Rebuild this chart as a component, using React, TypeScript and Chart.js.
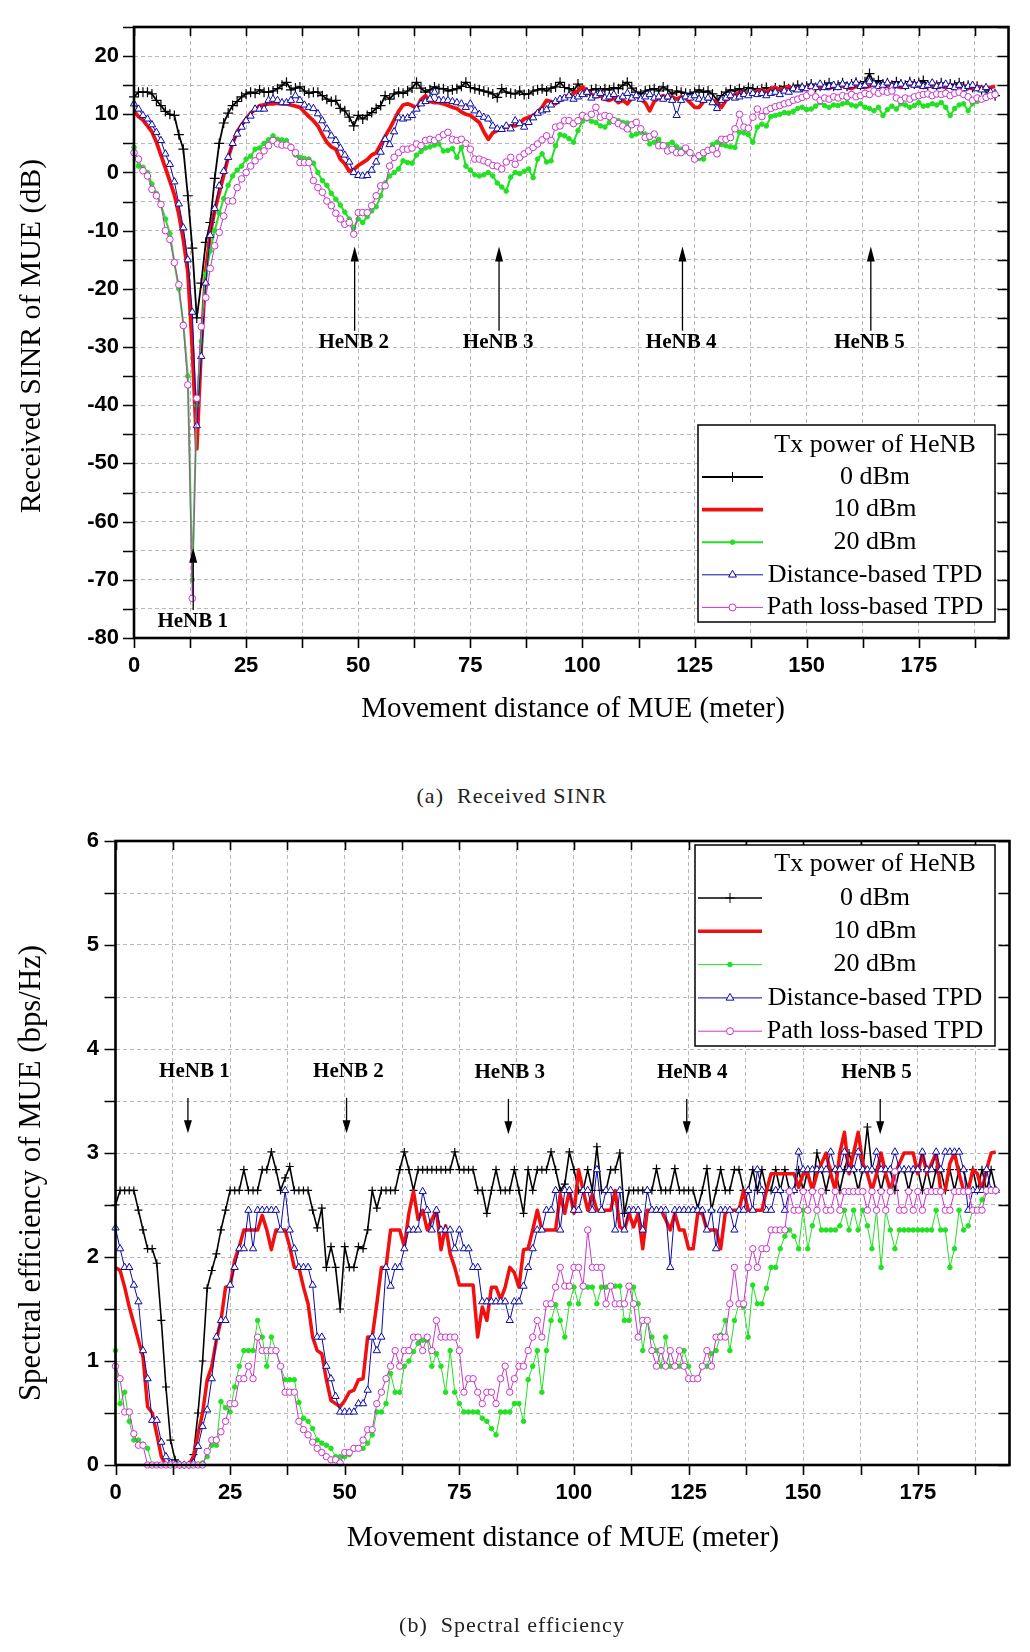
import React, { useEffect, useRef } from 'react';
import { Chart, registerables } from 'chart.js';

Chart.register(...registerables);

// ---------- DATA ----------
const DISTANCE_M = [
  0, 1, 2, 3, 4, 5, 6, 7, 8, 9, 10, 11, 12, 13, 14, 15, 16, 17, 18, 19,
  20, 21, 22, 23, 24, 25, 26, 27, 28, 29, 30, 31, 32, 33, 34, 35, 36, 37, 38, 39,
  40, 41, 42, 43, 44, 45, 46, 47, 48, 49, 50, 51, 52, 53, 54, 55, 56, 57, 58, 59,
  60, 61, 62, 63, 64, 65, 66, 67, 68, 69, 70, 71, 72, 73, 74, 75, 76, 77, 78, 79,
  80, 81, 82, 83, 84, 85, 86, 87, 88, 89, 90, 91, 92, 93, 94, 95, 96, 97, 98, 99,
  100, 101, 102, 103, 104, 105, 106, 107, 108, 109, 110, 111, 112, 113, 114, 115, 116, 117, 118, 119,
  120, 121, 122, 123, 124, 125, 126, 127, 128, 129, 130, 131, 132, 133, 134, 135, 136, 137, 138, 139,
  140, 141, 142, 143, 144, 145, 146, 147, 148, 149, 150, 151, 152, 153, 154, 155, 156, 157, 158, 159,
  160, 161, 162, 163, 164, 165, 166, 167, 168, 169, 170, 171, 172, 173, 174, 175, 176, 177, 178, 179,
  180, 181, 182, 183, 184, 185, 186, 187, 188, 189, 190, 191, 192,
];

const SERIES_LABELS = ['0 dBm', '10 dBm', '20 dBm', 'Distance-based TPD', 'Path loss-based TPD'];
const LEGEND_TITLE = 'Tx power of HeNB';

// (a) Received SINR (dB)
const SINR_0DBM = [
  13, 13.8, 13.8, 13.8, 13.5, 12.4, 11.5, 10.5, 10, 9.8,
  6.5, 4, -4, -13, -25, -19, -12, -8.6, -1, 5,
  8.5, 10.2, 11.5, 12.2, 13, 13.5, 13.8, 13.6, 14.2, 13.8,
  13.8, 14, 14.4, 15, 15.5, 14.2, 14.5, 14.7, 14, 13.6,
  13.8, 13.8, 13.2, 12.6, 12.2, 12.4, 11, 10.6, 9.5, 8,
  9.8, 9.2, 9.8, 10.3, 11, 11.5, 13.2, 12.6, 13.5, 13.8,
  13.6, 14, 14.5, 15.5, 14.5, 13.8, 14.2, 14.7, 14.4, 14.4,
  14, 14.2, 14.4, 14.8, 15.5, 14.6, 14.4, 14.2, 14, 13.8,
  13.5, 12.9, 14.4, 13.8, 13.6, 13.5, 14, 13.4, 13.5, 14,
  14.2, 14.4, 14, 14.5, 14.7, 15.5, 14.6, 14.4, 14, 15.2,
  14.4, 13.8, 14.2, 14.4, 14, 14.4, 14.2, 14.6, 14.4, 15,
  15.5, 14.5, 13.8, 13.5, 14, 14.2, 14.4, 14, 14.7, 14.2,
  13.5, 14, 13.8, 13.6, 13.5, 13.8, 14.2, 13.8, 14, 13.5,
  12.4, 13.2, 13.8, 14.2, 14, 14.4, 14, 14.6, 14.4, 14,
  14.4, 14.6, 14, 14.5, 14.2, 14.8, 14.4, 14.6, 15, 14.6,
  14.8, 15.2, 14.6, 14.8, 15, 15.4, 14.8, 15, 15.4, 14.8,
  15.2, 15.5, 15, 15.6, 17, 15.4, 15.8, 15.2, 15.4, 15,
  15.6, 15.2, 15, 15.6, 15.2, 15.4, 15.8, 15, 15.2, 15,
  15.4, 14.8, 15.2, 15, 15.4, 14.8, 15, 14.6, 14.8, 14.2,
  14.4, 13.8, 13.2,
];
const SINR_10DBM = [
  10.6, 9.6, 9, 8, 7, 5.2, 3, 0.8, -1.5, -3.8,
  -7.2, -11.5, -17, -30, -47.5, -30, -17, -10.5, -6.5, -3.5,
  -0.5, 2.6, 5, 7, 8.2, 9.2, 10.2, 10.8, 11.5, 11.6,
  11.8, 11.8, 11.9, 11.8, 11.8, 11.6, 11.4, 11.2, 10.4, 9.6,
  8.9, 8, 6.5, 5.2, 4.4, 4, 2.3, 1.5, 0.2, 0.5,
  1.2, 1.7, 2.2, 3, 3.4, 4.8, 6.2, 7.5, 9, 10.5,
  11.6, 11.8, 11.5, 11, 12.5, 13.2, 12.2, 12, 12, 11.8,
  11.5, 11.2, 11, 10.4, 10, 9.8, 9.2, 8.6, 7, 5.7,
  6.8, 7.2, 7.5, 7.8, 8, 8, 8.4, 9.2, 9.5, 9.8,
  10.4, 11.2, 12.4, 12.2, 11.8, 12.4, 13, 13.2, 13.6, 14,
  14.7, 14, 13.4, 13, 13.2, 12.6, 12.4, 12.8, 12, 12.4,
  11.8, 12.8, 13.2, 12.6, 12, 10.6, 12.2, 12.8, 13.2, 12.8,
  13, 12.6, 13, 12.8, 12, 11.2, 11.2, 12.2, 12.8, 12.4,
  12, 11.2, 12.4, 13, 13.4, 13.6, 13.8, 13.2, 13.6, 14,
  14.2, 13.8, 14.4, 14.6, 14.2, 14.4, 14.8, 14.4, 14.6, 14.4,
  14.8, 14.6, 14.4, 14.8, 14.6, 14.4, 14.8, 14.6, 15, 14.6,
  14.4, 14.8, 15, 14.6, 14.8, 15.2, 14.8, 14.6, 15, 15.2,
  14.8, 14.6, 14.8, 15.2, 15.4, 14.8, 14.6, 14.8, 15, 15.2,
  14.8, 14.6, 14.8, 14.6, 14.4, 14.8, 14.6, 14.4, 14.8, 14.6,
  14.4, 14.6, 14.8,
];
const SINR_20DBM = [
  4.3, 1.1, 0.9, 0, -2, -3.6, -5.5, -8, -10.5, -15.5,
  -20, -26, -35, -70, -40, -29, -17.5, -13.5, -10, -7,
  -4.5, -2.2, -0.6, 0.4, 1.1, 2.3, 2.8, 4, 4.2, 5,
  5.6, 6.3, 5.7, 5.6, 5.5, 4.2, 3, 2.6, 2.4, 2.3,
  1.6, 0, -1.4, -2.2, -3.6, -4.6, -5.6, -6.8, -8, -9.5,
  -8, -8.6, -7.6, -6.6, -5.9, -4, -1.8, -0.6, 0, 0.6,
  2, 1.7, 1.6, 3, 3.6, 4.2, 4.4, 4.7, 4.9, 3.7,
  3.8, 4.1, 2.6, 4.3, 1.1, 0.4, -0.4, -0.6, -0.4, 0,
  -0.6, -1.8, -2.5, -3.2, -0.8, 0, -0.2, 0.2, 0.6, -0.9,
  2.3, 3.2, 1.8, 2, 4.6, 6.5, 6.3, 5.8, 5.2, 7.2,
  8.8, 9.2, 8.8, 8.6, 8, 7.8, 8.6, 8.8, 8.9, 8.6,
  8.5, 6.3, 6.6, 6.9, 6.6, 4.9, 5.2, 5.7, 4.6, 4.8,
  5.2, 4.4, 4, 3.6, 3.4, 2.6, 2.4, 2.3, 3.8, 4.8,
  5.2, 4.8, 4.6, 4.4, 4.3, 6.9, 6.8, 6.5, 5.2, 7.8,
  8.3, 8, 9.6, 9.8, 10, 10.3, 10.2, 10.5, 11, 11.2,
  10.8, 10.9, 11.4, 12, 11.5, 11.2, 11.6, 11.5, 11.8, 12,
  11.6, 11.4, 11.8, 11.2, 11, 10.6, 11.2, 9.8, 10.8, 11.4,
  10.9, 11.8, 11.6, 11.2, 11.5, 12, 11.4, 11.5, 11.8, 11.6,
  12, 11.2, 9.8, 11, 11.6, 11.8, 10.6, 11.8, 12.2, 12.6,
  13.2, 13.4, 13.6,
];
const SINR_DIST_TPD = [
  11.8, 10.9, 9.8, 9.2, 8.2, 6.9, 5.5, 3.2, 1.4, -1.6,
  -5.4, -9.5, -15, -24, -43.5, -31.6, -19, -10.8, -6.2, -2.3,
  0.2, 2.6, 5, 6.6, 7.8, 8.9, 9.7, 10.9, 10.9, 10.9,
  12.4, 12.6, 12.4, 12, 12, 12.4, 13.2, 12.4, 11.6, 11.2,
  11, 10.1, 8.9, 7.5, 6.3, 5.5, 4.2, 3, 1.8, 0,
  -0.5, -0.6, -0.5, 0.4, 1.8, 3.5, 5.7, 4.8, 7, 9.4,
  9.2, 9.4, 9.8, 10.9, 11.8, 12.2, 12.6, 13.8, 12.4, 12.4,
  12.4, 12.2, 12, 11.8, 11.2, 11.8, 10.6, 10, 9.5, 9.2,
  8, 7.5, 7.4, 8, 7.5, 8.9, 8.4, 7.8, 8.6, 9.4,
  10.2, 10.6, 10.8, 11.6, 12.2, 12.6, 12.8, 13.2, 12.6, 13,
  13.4, 13.8, 12.8, 13.2, 13.6, 12.8, 13, 13.4, 12.6, 13,
  13.6, 12.8, 13.2, 12.6, 13, 13.4, 12.8, 13, 12.6, 13,
  12.4, 9.8, 12.4, 13, 12.8, 13.2, 12.6, 12.4, 12.8, 12,
  11, 12.4, 12.8, 13.2, 12.8, 13, 13.4, 13.2, 13.6, 13.4,
  13.6, 13.2, 13.6, 13.8, 13.4, 14, 13.8, 14.4, 14.2, 14.6,
  14.4, 14.8, 14.6, 15.2, 14.6, 14.8, 15, 14.6, 15.2, 14.8,
  15, 15.4, 14.8, 15, 15.6, 15.2, 14.8, 15, 15.4, 14.8,
  15, 15.2, 14.8, 15.4, 15, 15.2, 14.8, 15, 15.4, 14.8,
  15, 15.2, 14.8, 14.6, 15, 14.4, 14.8, 15, 14.4, 14.2,
  14.6, 13.8, 13.6,
];
const SINR_PL_TPD = [
  3.4, 2.3, 0.3, -0.6, -2.9, -4, -5.5, -10, -11.5, -15.5,
  -19.3, -26.3, -36.5, -73.2, -38.8, -26.5, -21.5, -16.5, -12.6, -10.3,
  -7.5, -4.9, -4.9, -2.6, -1.1, 0, 1.1, 2, 2.8, 3.7,
  4.6, 5.5, 4.9, 4.7, 4.7, 4.3, 3.4, 1.7, 1.7, 1.7,
  -1.4, -2.6, -3.4, -4.9, -5.7, -7, -8, -8.9, -8.6, -10.6,
  -6.9, -6.9, -6.9, -5.7, -4, -2.3, -2.3, 1.1, 2.6, 3.4,
  4, 4, 4.2, 4.9, 4.6, 5.5, 5.7, 5.5, 6, 6.5,
  6.9, 5.7, 5.5, 5.7, 5, 4, 2.3, 2.3, 2, 1.7,
  1.2, 1.1, 0.6, 1.8, 2.6, 1.4, 2.6, 3.2, 3.7, 4.3,
  4.9, 5.6, 6.3, 5.5, 7.8, 8, 8.9, 8.9, 8.4, 8.9,
  9.8, 9.5, 10, 11.2, 9.5, 9.8, 9.6, 8.9, 8.4, 8,
  7.5, 8.2, 8.6, 7.5, 6, 6.2, 6.6, 4.6, 4.6, 3.7,
  4, 3.4, 3.4, 4.2, 3.4, 2.3, 2.9, 3.4, 3.8, 4,
  3.2, 5.7, 5.7, 6, 7.5, 10, 7.8, 7.6, 9.5, 10.9,
  9.6, 10.6, 11, 11.3, 11.5, 11.8, 12, 12.4, 12.6, 12.9,
  13.2, 13.8, 13, 12.4, 12.8, 12.6, 13, 12.8, 13.2, 13,
  13.4, 13, 13.2, 13.6, 13.4, 14, 13.6, 14, 13.8, 14,
  12.8, 12.4, 12.8, 12.6, 13, 13.2, 13.4, 13.5, 13.2, 13.5,
  13.4, 13.6, 13.2, 13.6, 13.8, 13.4, 13, 12.4, 12.8, 12.6,
  12.9, 13.2, 13.4,
];

// (b) Spectral efficiency (bps/Hz)
const SE_0DBM = [
  2.5, 2.64, 2.64, 2.64, 2.64, 2.45, 2.26, 2.08, 2.08, 1.94,
  1.39, 0.75, 0.24, 0.05, 0, 0, 0, 0.1, 0.5, 1.0,
  1.7, 1.87, 2.03, 2.26, 2.45, 2.64, 2.64, 2.64, 2.84, 2.64,
  2.64, 2.64, 2.84, 2.84, 3.01, 2.84, 2.64, 2.76, 2.87, 2.64,
  2.64, 2.64, 2.64, 2.45, 2.28, 2.47, 1.9, 2.1, 1.9, 1.5,
  2.1, 1.9, 1.9, 2.1, 2.08, 2.26, 2.64, 2.47, 2.64, 2.64,
  2.64, 2.64, 2.84, 3.01, 2.84, 2.64, 2.84, 2.84, 2.84, 2.84,
  2.84, 2.84, 2.84, 2.84, 3.01, 2.84, 2.84, 2.84, 2.84, 2.64,
  2.64, 2.42, 2.64, 2.84, 2.64, 2.64, 2.64, 2.84, 2.64, 2.42,
  2.84, 2.64, 2.84, 2.84, 2.84, 3.01, 2.84, 2.64, 2.7, 3.01,
  2.84, 2.64, 2.64, 2.84, 2.64, 3.06, 2.64, 2.64, 2.84, 2.84,
  3.0, 2.42, 2.64, 2.64, 2.64, 2.64, 2.64, 2.64, 2.85, 2.64,
  2.64, 2.64, 2.85, 2.64, 2.64, 2.64, 2.64, 2.47, 2.64, 2.85,
  2.45, 2.64, 2.84, 2.64, 2.64, 2.84, 2.84, 2.64, 2.64, 2.84,
  2.64, 2.84, 2.64, 2.64, 2.84, 2.64, 2.84, 2.64, 2.64, 2.84,
  2.64, 2.84, 2.64, 3.0, 2.84, 2.64, 2.84, 2.84, 2.64, 2.84,
  3.0, 2.84, 2.64, 2.84, 3.25, 2.84, 2.84, 2.64, 2.84, 2.84,
  2.64, 2.84, 2.84, 2.64, 2.84, 2.84, 2.64, 2.84, 2.64, 2.84,
  2.84, 2.64, 2.84, 2.64, 2.84, 2.84, 2.64, 2.84, 2.64, 2.84,
  2.64, 2.84, 2.64,
];
const SE_10DBM = [
  1.9, 1.87, 1.71, 1.52, 1.36, 1.2, 1.04, 0.56, 0.5, 0.3,
  0.08, 0, 0, 0, 0, 0, 0, 0.08, 0.3, 0.5,
  0.82, 0.95, 1.2, 1.39, 1.71, 1.72, 1.97, 2.1, 2.26, 2.26,
  2.26, 2.26, 2.4, 2.26, 2.07, 2.26, 2.26, 2.26, 2.1, 1.9,
  1.9, 1.71, 1.55, 1.23, 1.1, 1.07, 0.82, 0.62, 0.59, 0.56,
  0.62, 0.7, 0.72, 0.82, 0.83, 1.23, 1.23, 1.55, 1.9, 1.9,
  2.26, 2.26, 2.26, 2.1, 2.42, 2.63, 2.36, 2.45, 2.26, 2.36,
  2.45, 2.07, 2.3, 2.03, 1.9, 1.73, 1.73, 1.73, 1.73, 1.23,
  1.52, 1.39, 1.71, 1.71, 1.59, 1.71, 1.9, 1.85, 1.71, 2.07,
  2.08, 2.26, 2.45, 2.26, 2.26, 2.26, 2.26, 2.6, 2.42, 2.64,
  2.42, 2.84, 2.64, 2.45, 2.6, 2.45, 2.45, 2.45, 2.45, 2.64,
  2.29, 2.26, 2.42, 2.29, 2.42, 2.08, 2.45, 2.45, 2.45, 2.45,
  2.36, 2.26, 2.42, 2.26, 2.26, 2.08, 2.08, 2.42, 2.42, 2.26,
  2.26, 2.26, 2.08, 2.42, 2.45, 2.45, 2.45, 2.64, 2.45, 2.45,
  2.45, 2.45, 2.64, 2.8, 2.8, 2.8, 2.8, 2.8, 2.8, 2.67,
  2.8, 2.8, 2.64, 2.8, 2.9, 3.0, 2.8, 2.64, 3.0, 3.2,
  2.8, 3.0, 3.2, 2.9, 2.8, 2.64, 2.8, 3.0, 2.8, 2.64,
  2.8, 2.9, 3.0, 3.0, 3.0, 2.8, 3.0, 2.8, 2.9, 3.0,
  2.64, 2.64, 2.9, 3.0, 2.8, 2.64, 2.64, 2.84, 2.8, 2.64,
  2.84, 3.0, 3.01,
];
const SE_20DBM = [
  1.1, 0.59, 0.7, 0.42, 0.24, 0.24, 0.2, 0.16, 0, 0,
  0, 0, 0, 0, 0, 0, 0, 0, 0, 0.02,
  0.08, 0.19, 0.19, 0.61, 0.55, 0.51, 0.75, 0.95, 1.1, 1.1,
  1.1, 1.39, 1.23, 0.95, 1.23, 1.1, 0.95, 0.82, 0.82, 0.82,
  0.6, 0.45, 0.42, 0.35, 0.24, 0.21, 0.19, 0.16, 0.08, 0.08,
  0.08, 0.1, 0.16, 0.16, 0.16, 0.21, 0.29, 0.51, 0.51, 0.59,
  0.88, 0.7, 0.7, 0.95, 1.0, 1.09, 1.17, 1.2, 1.2, 0.95,
  1.07, 0.95, 0.7, 1.1, 0.7, 0.59, 0.51, 0.51, 0.51, 0.51,
  0.45, 0.42, 0.35, 0.29, 0.51, 0.51, 0.51, 0.59, 0.59, 0.42,
  0.82, 0.95, 1.1, 0.7, 1.1, 1.39, 1.54, 1.39, 1.23, 1.55,
  1.71, 1.55, 1.71, 1.71, 1.71, 1.55, 1.71, 1.71, 1.72, 1.72,
  1.72, 1.39, 1.39, 1.71, 1.55, 1.1, 1.39, 1.23, 1.1, 0.95,
  1.23, 0.95, 0.95, 0.95, 1.1, 0.95, 0.83, 0.83, 0.95, 0.95,
  1.07, 1.1, 1.25, 1.39, 1.1, 1.39, 1.55, 1.52, 1.23, 1.73,
  1.55, 1.55, 1.7, 1.9, 1.9, 2.08, 2.2, 2.26, 2.2, 2.08,
  2.45, 2.08, 2.3, 2.45, 2.26, 2.26, 2.26, 2.26, 2.3, 2.45,
  2.26, 2.45, 2.26, 2.45, 2.3, 2.08, 2.45, 1.9, 2.45, 2.26,
  2.08, 2.26, 2.26, 2.26, 2.26, 2.26, 2.26, 2.26, 2.26, 2.45,
  2.26, 2.26, 1.9, 2.08, 2.45, 2.26, 2.3, 2.45, 2.45, 2.55,
  2.64, 2.64, 2.64,
];
const SE_DIST_TPD = [
  2.28, 2.08, 1.9, 1.9, 1.73, 1.57, 1.1, 0.83, 0.43, 0.43,
  0.22, 0.08, 0.02, 0, 0, 0, 0, 0.02, 0.18, 0.37,
  0.53, 0.83, 1.23, 1.39, 1.39, 1.73, 1.9, 2.08, 2.08, 2.45,
  2.08, 2.45, 2.45, 2.45, 2.45, 2.45, 2.26, 2.64, 2.26, 2.08,
  1.9, 1.9, 1.9, 1.73, 1.23, 1.23, 0.95, 0.83, 0.66, 0.51,
  0.51, 0.51, 0.51, 0.59, 0.59, 0.72, 1.23, 1.1, 1.23, 1.9,
  1.72, 1.9, 1.9, 2.08, 2.26, 2.26, 2.26, 2.63, 2.45, 2.26,
  2.45, 2.26, 2.26, 2.26, 2.08, 2.26, 2.08, 2.08, 1.9, 1.9,
  1.57, 1.57, 1.57, 1.57, 1.57, 1.57, 1.39, 1.57, 1.57, 1.72,
  1.9, 2.08, 2.26, 2.26, 2.45, 2.45, 2.64, 2.26, 2.64, 2.64,
  2.45, 2.45, 2.64, 2.64, 2.45, 2.84, 2.45, 2.64, 2.64, 2.26,
  2.64, 2.26, 2.45, 2.45, 2.45, 2.26, 2.64, 2.45, 2.45, 2.45,
  2.45, 1.9, 2.45, 2.45, 2.45, 2.45, 2.45, 2.45, 2.45, 2.26,
  2.45, 2.08, 2.45, 2.45, 2.45, 2.26, 2.45, 2.45, 2.64, 2.45,
  2.84, 2.64, 2.45, 2.45, 2.64, 2.64, 2.45, 2.64, 2.64, 3.01,
  2.84, 2.84, 2.84, 2.84, 2.84, 2.84, 3.01, 2.84, 2.84, 3.01,
  2.84, 2.84, 3.01, 2.84, 2.84, 2.84, 3.01, 2.84, 2.84, 2.84,
  3.01, 2.84, 2.84, 2.84, 2.84, 2.84, 3.01, 2.84, 2.84, 3.01,
  2.84, 3.01, 3.01, 3.01, 3.01, 2.84, 2.45, 2.64, 2.64, 2.64,
  2.84, 2.64, 2.64,
];
const SE_PL_TPD = [
  0.95, 0.83, 0.51, 0.51, 0.3, 0.19, 0.19, 0, 0, 0,
  0, 0, 0, 0, 0, 0, 0, 0, 0, 0,
  0.13, 0.24, 0.24, 0.32, 0.42, 0.59, 0.59, 0.83, 0.83, 0.95,
  0.83, 1.23, 1.1, 1.1, 1.1, 1.1, 0.95, 0.7, 0.7, 0.7,
  0.42, 0.34, 0.29, 0.22, 0.16, 0.12, 0.08, 0.05, 0.05, 0.02,
  0.12, 0.12, 0.16, 0.16, 0.24, 0.34, 0.34, 0.59, 0.7, 0.83,
  0.95, 1.1, 0.95, 1.1, 1.1, 1.23, 1.23, 1.1, 1.23, 1.1,
  1.39, 1.23, 1.23, 1.23, 1.23, 1.1, 0.7, 0.83, 0.83, 0.7,
  0.59, 0.7, 0.7, 0.59, 0.83, 0.95, 0.7, 0.83, 0.95, 0.95,
  1.1, 1.23, 1.39, 1.23, 1.55, 1.55, 1.71, 1.9, 1.72, 1.72,
  1.9, 1.9, 1.72, 2.26, 1.9, 1.9, 1.9, 1.55, 1.72, 1.55,
  1.55, 1.55, 1.72, 1.55, 1.23, 1.39, 1.39, 1.1, 0.95, 1.1,
  0.95, 1.1, 0.95, 1.1, 0.95, 0.83, 0.83, 0.83, 0.95, 1.1,
  0.95, 1.23, 1.23, 1.23, 1.55, 1.9, 1.55, 1.55, 1.9, 2.08,
  1.9, 2.08, 2.08, 2.26, 2.26, 2.26, 2.26, 2.63, 2.45, 2.45,
  2.63, 2.45, 2.63, 2.45, 2.63, 2.45, 2.45, 2.63, 2.45, 2.63,
  2.63, 2.63, 2.63, 2.63, 2.45, 2.63, 2.45, 2.63, 2.45, 2.63,
  2.82, 2.45, 2.45, 2.63, 2.45, 2.63, 2.45, 2.63, 2.63, 2.63,
  2.63, 2.45, 2.45, 2.63, 2.63, 2.63, 2.63, 2.45, 2.45, 2.45,
  2.64, 2.64, 2.64,
];

// Axis ticks / labels
const DIST_TICKS = [0, 12.5, 25, 37.5, 50, 62.5, 75, 87.5, 100, 112.5, 125, 137.5, 150, 162.5, 175, 187.5];
const DIST_TICK_LABELS = [0, 25, 50, 75, 100, 125, 150, 175];
const SINR_TICKS = [-80, -75, -70, -65, -60, -55, -50, -45, -40, -35, -30, -25, -20, -15, -10, -5, 0, 5, 10, 15, 20, 25];
const SINR_TICK_LABELS = [-80, -70, -60, -50, -40, -30, -20, -10, 0, 10, 20];
const SE_TICKS = [0, 0.5, 1, 1.5, 2, 2.5, 3, 3.5, 4, 4.5, 5, 5.5, 6];
const SE_TICK_LABELS = [0, 1, 2, 3, 4, 5, 6];

// HeNB annotations (label position and arrow from/to, in data units)
const SINR_HENB = [
  { text: 'HeNB 1', tx: 13.1, ty: -77.2, ax: 13.2, from: -75.2, to: -64.5 },
  { text: 'HeNB 2', tx: 49.0, ty: -29.2, ax: 49.2, from: -27.2, to: -12.7 },
  { text: 'HeNB 3', tx: 81.2, ty: -29.2, ax: 81.4, from: -27.2, to: -12.7 },
  { text: 'HeNB 4', tx: 122.0, ty: -29.2, ax: 122.3, from: -27.2, to: -12.7 },
  { text: 'HeNB 5', tx: 164.0, ty: -29.2, ax: 164.3, from: -27.2, to: -12.7 },
];
const SE_HENB = [
  { text: 'HeNB 1', tx: 17.2, ty: 3.78, ax: 15.8, from: 3.53, to: 3.19 },
  { text: 'HeNB 2', tx: 50.8, ty: 3.78, ax: 50.4, from: 3.53, to: 3.19 },
  { text: 'HeNB 3', tx: 86.0, ty: 3.77, ax: 85.7, from: 3.52, to: 3.18 },
  { text: 'HeNB 4', tx: 125.8, ty: 3.77, ax: 124.6, from: 3.52, to: 3.18 },
  { text: 'HeNB 5', tx: 166.0, ty: 3.77, ax: 166.8, from: 3.52, to: 3.18 },
];

// ---------- STYLES ----------
type Look = { color: string; fill: string; width: number; point: string | null; radius: number; pointLw: number; order: number };
const LOOK_TOP: Look[] = [
  { color: '#000000', fill: '#000000', width: 1.8, point: 'cross', radius: 5, pointLw: 1.2, order: 5 },
  { color: '#f01010', fill: '#f01010', width: 3.8, point: null, radius: 0, pointLw: 0, order: 4 },
  { color: '#22e022', fill: '#22e022', width: 2, point: 'circle', radius: 2.3, pointLw: 1, order: 3 },
  { color: '#0a0aa8', fill: '#ffffff', width: 1, point: 'triangle', radius: 4.2, pointLw: 1, order: 2 },
  { color: '#cc33cc', fill: '#ffffff', width: 1, point: 'circle', radius: 3.3, pointLw: 1, order: 1 },
];
const LOOK_BOTTOM: Look[] = [
  { color: '#000000', fill: '#000000', width: 1.6, point: 'cross', radius: 4, pointLw: 1.2, order: 5 },
  { color: '#f01010', fill: '#f01010', width: 3.5, point: null, radius: 0, pointLw: 0, order: 4 },
  { color: '#22e022', fill: '#22e022', width: 1, point: 'circle', radius: 2.3, pointLw: 1, order: 3 },
  { color: '#0a0aa8', fill: '#ffffff', width: 1, point: 'triangle', radius: 4.2, pointLw: 1, order: 2 },
  { color: '#cc33cc', fill: '#ffffff', width: 1, point: 'circle', radius: 3.2, pointLw: 1, order: 1 },
];

const SERIF = '"Liberation Serif", "Times New Roman", serif';
const SANS = '"Liberation Sans", Arial, sans-serif';

// ---------- DRAW HELPERS ----------
function drawMarker(ctx: CanvasRenderingContext2D, kind: string | null, x: number, y: number, r: number, stroke: string, fill: string, lw: number) {
  if (!kind) return;
  ctx.save();
  ctx.lineWidth = lw;
  ctx.strokeStyle = stroke;
  ctx.fillStyle = fill;
  ctx.beginPath();
  if (kind === 'cross') {
    ctx.moveTo(x - r, y); ctx.lineTo(x + r, y);
    ctx.moveTo(x, y - r); ctx.lineTo(x, y + r);
    ctx.stroke();
  } else if (kind === 'circle') {
    ctx.arc(x, y, r, 0, Math.PI * 2);
    ctx.fill(); ctx.stroke();
  } else if (kind === 'triangle') {
    ctx.moveTo(x, y - r);
    ctx.lineTo(x + r * 0.866, y + r * 0.5);
    ctx.lineTo(x - r * 0.866, y + r * 0.5);
    ctx.closePath();
    ctx.fill(); ctx.stroke();
  }
  ctx.restore();
}

type Note = { text: string; tx: number; ty: number; ax: number; from: number; to: number };
type LegendBox = { x1: number; y1: number; x2: number; y2: number; titleDy: number; firstDy: number; rowH: number; textCx: number; sx1: number; sx2: number };
type Deco = {
  yTicks: number[]; yLabels: number[]; xTicks: number[]; xLabels: number[];
  yLabelRight: number; xLabelY: number;
  xTitle: string; xTitleX: number; xTitleY: number; xTitleSize: number;
  yTitle: string; yTitleX: number; yTitleY: number; yTitleSize: number;
  legend: LegendBox; looks: Look[];
  notes: Note[]; headLen: number; headHalf: number;
};

const decoPlugin = {
  id: 'deco',
  afterDraw(chart: any, _args: any, opts: any) {
    const cfg = opts as Deco;
    const ctx: CanvasRenderingContext2D = chart.ctx;
    const a = chart.chartArea;
    const xs = chart.scales.x;
    const ys = chart.scales.y;
    ctx.save();

    // tick marks
    ctx.strokeStyle = '#000';
    ctx.lineWidth = 1.6;
    ctx.beginPath();
    for (const v of cfg.yTicks) {
      const py = Math.round(ys.getPixelForValue(v)) + 0.5;
      ctx.moveTo(a.left - 11, py); ctx.lineTo(a.left, py);
      ctx.moveTo(a.right, py); ctx.lineTo(a.right - 11, py);
    }
    for (const v of cfg.xTicks) {
      const px = Math.round(xs.getPixelForValue(v)) + 0.5;
      ctx.moveTo(px, a.bottom); ctx.lineTo(px, a.bottom + 10);
      ctx.moveTo(px, a.top); ctx.lineTo(px, a.top + 9);
    }
    ctx.stroke();

    // frame
    ctx.lineWidth = 2.6;
    ctx.strokeRect(a.left, a.top, a.right - a.left, a.bottom - a.top);

    // tick labels
    ctx.fillStyle = '#000';
    ctx.font = `bold 22px ${SANS}`;
    ctx.textAlign = 'right';
    ctx.textBaseline = 'middle';
    for (const v of cfg.yLabels) ctx.fillText(String(v), cfg.yLabelRight, ys.getPixelForValue(v));
    ctx.textAlign = 'center';
    for (const v of cfg.xLabels) ctx.fillText(String(v), xs.getPixelForValue(v), cfg.xLabelY);

    // axis titles
    ctx.font = `${cfg.xTitleSize}px ${SERIF}`;
    ctx.fillText(cfg.xTitle, cfg.xTitleX, cfg.xTitleY);
    ctx.save();
    ctx.font = `${cfg.yTitleSize}px ${SERIF}`;
    ctx.translate(cfg.yTitleX, cfg.yTitleY);
    ctx.rotate(-Math.PI / 2);
    ctx.fillText(cfg.yTitle, 0, 0);
    ctx.restore();

    // HeNB annotations
    ctx.font = `bold 21px ${SERIF}`;
    for (const n of cfg.notes) {
      ctx.fillStyle = '#000';
      ctx.fillText(n.text, xs.getPixelForValue(n.tx), ys.getPixelForValue(n.ty));
      const px = xs.getPixelForValue(n.ax);
      const p0 = ys.getPixelForValue(n.from);
      const p1 = ys.getPixelForValue(n.to);
      const dir = p1 < p0 ? 1 : -1; // 1: arrow points up
      ctx.strokeStyle = '#000';
      ctx.lineWidth = 1.3;
      ctx.beginPath();
      ctx.moveTo(px, p0);
      ctx.lineTo(px, p1 + dir * cfg.headLen * 0.6);
      ctx.stroke();
      ctx.beginPath();
      ctx.moveTo(px, p1);
      ctx.lineTo(px - cfg.headHalf, p1 + dir * cfg.headLen);
      ctx.lineTo(px + cfg.headHalf, p1 + dir * cfg.headLen);
      ctx.closePath();
      ctx.fill();
    }

    // legend
    const L = cfg.legend;
    ctx.fillStyle = '#fff';
    ctx.fillRect(L.x1, L.y1, L.x2 - L.x1, L.y2 - L.y1);
    ctx.strokeStyle = '#000';
    ctx.lineWidth = 1.5;
    ctx.strokeRect(L.x1, L.y1, L.x2 - L.x1, L.y2 - L.y1);
    ctx.fillStyle = '#000';
    ctx.font = `26px ${SERIF}`;
    ctx.textAlign = 'center';
    ctx.fillText(LEGEND_TITLE, L.textCx, L.y1 + L.titleDy);
    SERIES_LABELS.forEach((label, i) => {
      const lk = cfg.looks[i];
      const y = L.y1 + L.firstDy + i * L.rowH;
      ctx.strokeStyle = lk.color;
      ctx.lineWidth = lk.width;
      ctx.beginPath();
      ctx.moveTo(L.sx1, y); ctx.lineTo(L.sx2, y);
      ctx.stroke();
      const mx = (L.sx1 + L.sx2) / 2;
      const r = lk.point === 'cross' ? 5 : lk.point === 'triangle' ? 4.5 : lk.point === 'circle' && lk.fill === '#ffffff' ? 3.5 : 2.3;
      drawMarker(ctx, lk.point, mx, y, r, lk.color, lk.fill, 1);
      ctx.fillStyle = '#000';
      ctx.fillText(label, L.textCx, y);
    });

    ctx.restore();
  },
};

function buildDatasets(series: number[][], looks: Look[]) {
  return series.map((vals, i) => {
    const lk = looks[i];
    return {
      label: SERIES_LABELS[i],
      data: DISTANCE_M.map((d, k) => ({ x: d, y: vals[k] })),
      borderColor: lk.color,
      backgroundColor: lk.fill,
      borderWidth: lk.width,
      pointStyle: lk.point || 'circle',
      pointRadius: lk.point ? lk.radius : 0,
      pointBorderColor: lk.color,
      pointBackgroundColor: lk.fill,
      pointBorderWidth: lk.pointLw,
      order: lk.order,
      clip: false as const,
      tension: 0,
      borderJoinStyle: 'round' as const,
      fill: false,
    };
  });
}

type PlotProps = {
  top: number; height: number;
  pad: { left: number; right: number; top: number; bottom: number };
  series: number[][]; looks: Look[];
  yMin: number; yMax: number; yStep: number;
  deco: Deco;
};

function PlotCanvas(p: PlotProps) {
  const ref = useRef<HTMLCanvasElement | null>(null);
  useEffect(() => {
    if (!ref.current) return;
    const gridCfg = { color: '#b8b8b8', lineWidth: 1, drawTicks: false };
    const chart = new Chart(ref.current, {
      type: 'line',
      data: { datasets: buildDatasets(p.series, p.looks) as any },
      options: {
        responsive: false,
        animation: false,
        devicePixelRatio: 1,
        events: [],
        layout: { padding: p.pad },
        plugins: {
          legend: { display: false },
          tooltip: { enabled: false },
          deco: p.deco,
        } as any,
        scales: {
          x: {
            type: 'linear', min: 0, max: 195,
            ticks: { display: false, stepSize: 12.5 },
            grid: gridCfg,
            border: { display: false, dash: [4, 3] },
            afterFit: (s: any) => { s.height = 0; },
          },
          y: {
            type: 'linear', min: p.yMin, max: p.yMax,
            ticks: { display: false, stepSize: p.yStep },
            grid: gridCfg,
            border: { display: false, dash: [4, 3] },
            afterFit: (s: any) => { s.width = 0; },
          },
        } as any,
      },
      plugins: [decoPlugin as any],
    });
    const fonts: any = (document as any).fonts;
    if (fonts && fonts.ready) fonts.ready.then(() => chart.update());
    return () => chart.destroy();
  }, []);
  return (
    <canvas
      ref={ref}
      width={1030}
      height={p.height}
      style={{ position: 'absolute', left: 0, top: p.top, width: 1030, height: p.height }}
    />
  );
}

export default function App() {
  const topDeco: Deco = {
    yTicks: SINR_TICKS, yLabels: SINR_TICK_LABELS, xTicks: DIST_TICKS, xLabels: DIST_TICK_LABELS,
    yLabelRight: 119, xLabelY: 666,
    xTitle: 'Movement distance of MUE (meter)', xTitleX: 573, xTitleY: 709, xTitleSize: 29,
    yTitle: 'Received SINR of MUE (dB)', yTitleX: 32, yTitleY: 336, yTitleSize: 29.8,
    legend: { x1: 698, y1: 425, x2: 995, y2: 622, titleDy: 20, firstDy: 52, rowH: 32.6, textCx: 875, sx1: 702, sx2: 763 },
    looks: LOOK_TOP,
    notes: SINR_HENB, headLen: 15, headHalf: 4,
  };
  const botDeco: Deco = {
    yTicks: SE_TICKS, yLabels: SE_TICK_LABELS, xTicks: DIST_TICKS, xLabels: DIST_TICK_LABELS,
    yLabelRight: 99, xLabelY: 753,
    xTitle: 'Movement distance of MUE (meter)', xTitleX: 563, xTitleY: 798, xTitleSize: 29.6,
    yTitle: 'Spectral efficiency of MUE (bps/Hz)', yTitleX: 32, yTitleY: 433, yTitleSize: 30.8,
    legend: { x1: 695, y1: 105, x2: 995, y2: 306, titleDy: 19.5, firstDy: 53, rowH: 33.3, textCx: 875, sx1: 698, sx2: 762 },
    looks: LOOK_BOTTOM,
    notes: SE_HENB, headLen: 13, headHalf: 4,
  };
  const caption: React.CSSProperties = {
    position: 'absolute', left: 0, width: 1024, textAlign: 'center',
    fontFamily: SERIF, fontSize: 22, lineHeight: '24px', letterSpacing: '1px',
    whiteSpace: 'pre', color: '#222',
  };
  return (
    <div style={{ position: 'absolute', left: 0, top: 0, width: 1030, height: 1652, background: '#fff', overflow: 'hidden' }}>
      <PlotCanvas
        top={0} height={740}
        pad={{ left: 134, right: 21.5, top: 27, bottom: 102 }}
        series={[SINR_0DBM, SINR_10DBM, SINR_20DBM, SINR_DIST_TPD, SINR_PL_TPD]}
        looks={LOOK_TOP}
        yMin={-80} yMax={25} yStep={5}
        deco={topDeco}
      />
      <div style={{ ...caption, top: 784 }}>(a)  Received SINR</div>
      <PlotCanvas
        top={740} height={912}
        pad={{ left: 115.5, right: 20.5, top: 101, bottom: 187 }}
        series={[SE_0DBM, SE_10DBM, SE_20DBM, SE_DIST_TPD, SE_PL_TPD]}
        looks={LOOK_BOTTOM}
        yMin={0} yMax={6} yStep={0.5}
        deco={botDeco}
      />
      <div style={{ ...caption, top: 1613 }}>(b)  Spectral efficiency</div>
    </div>
  );
}
